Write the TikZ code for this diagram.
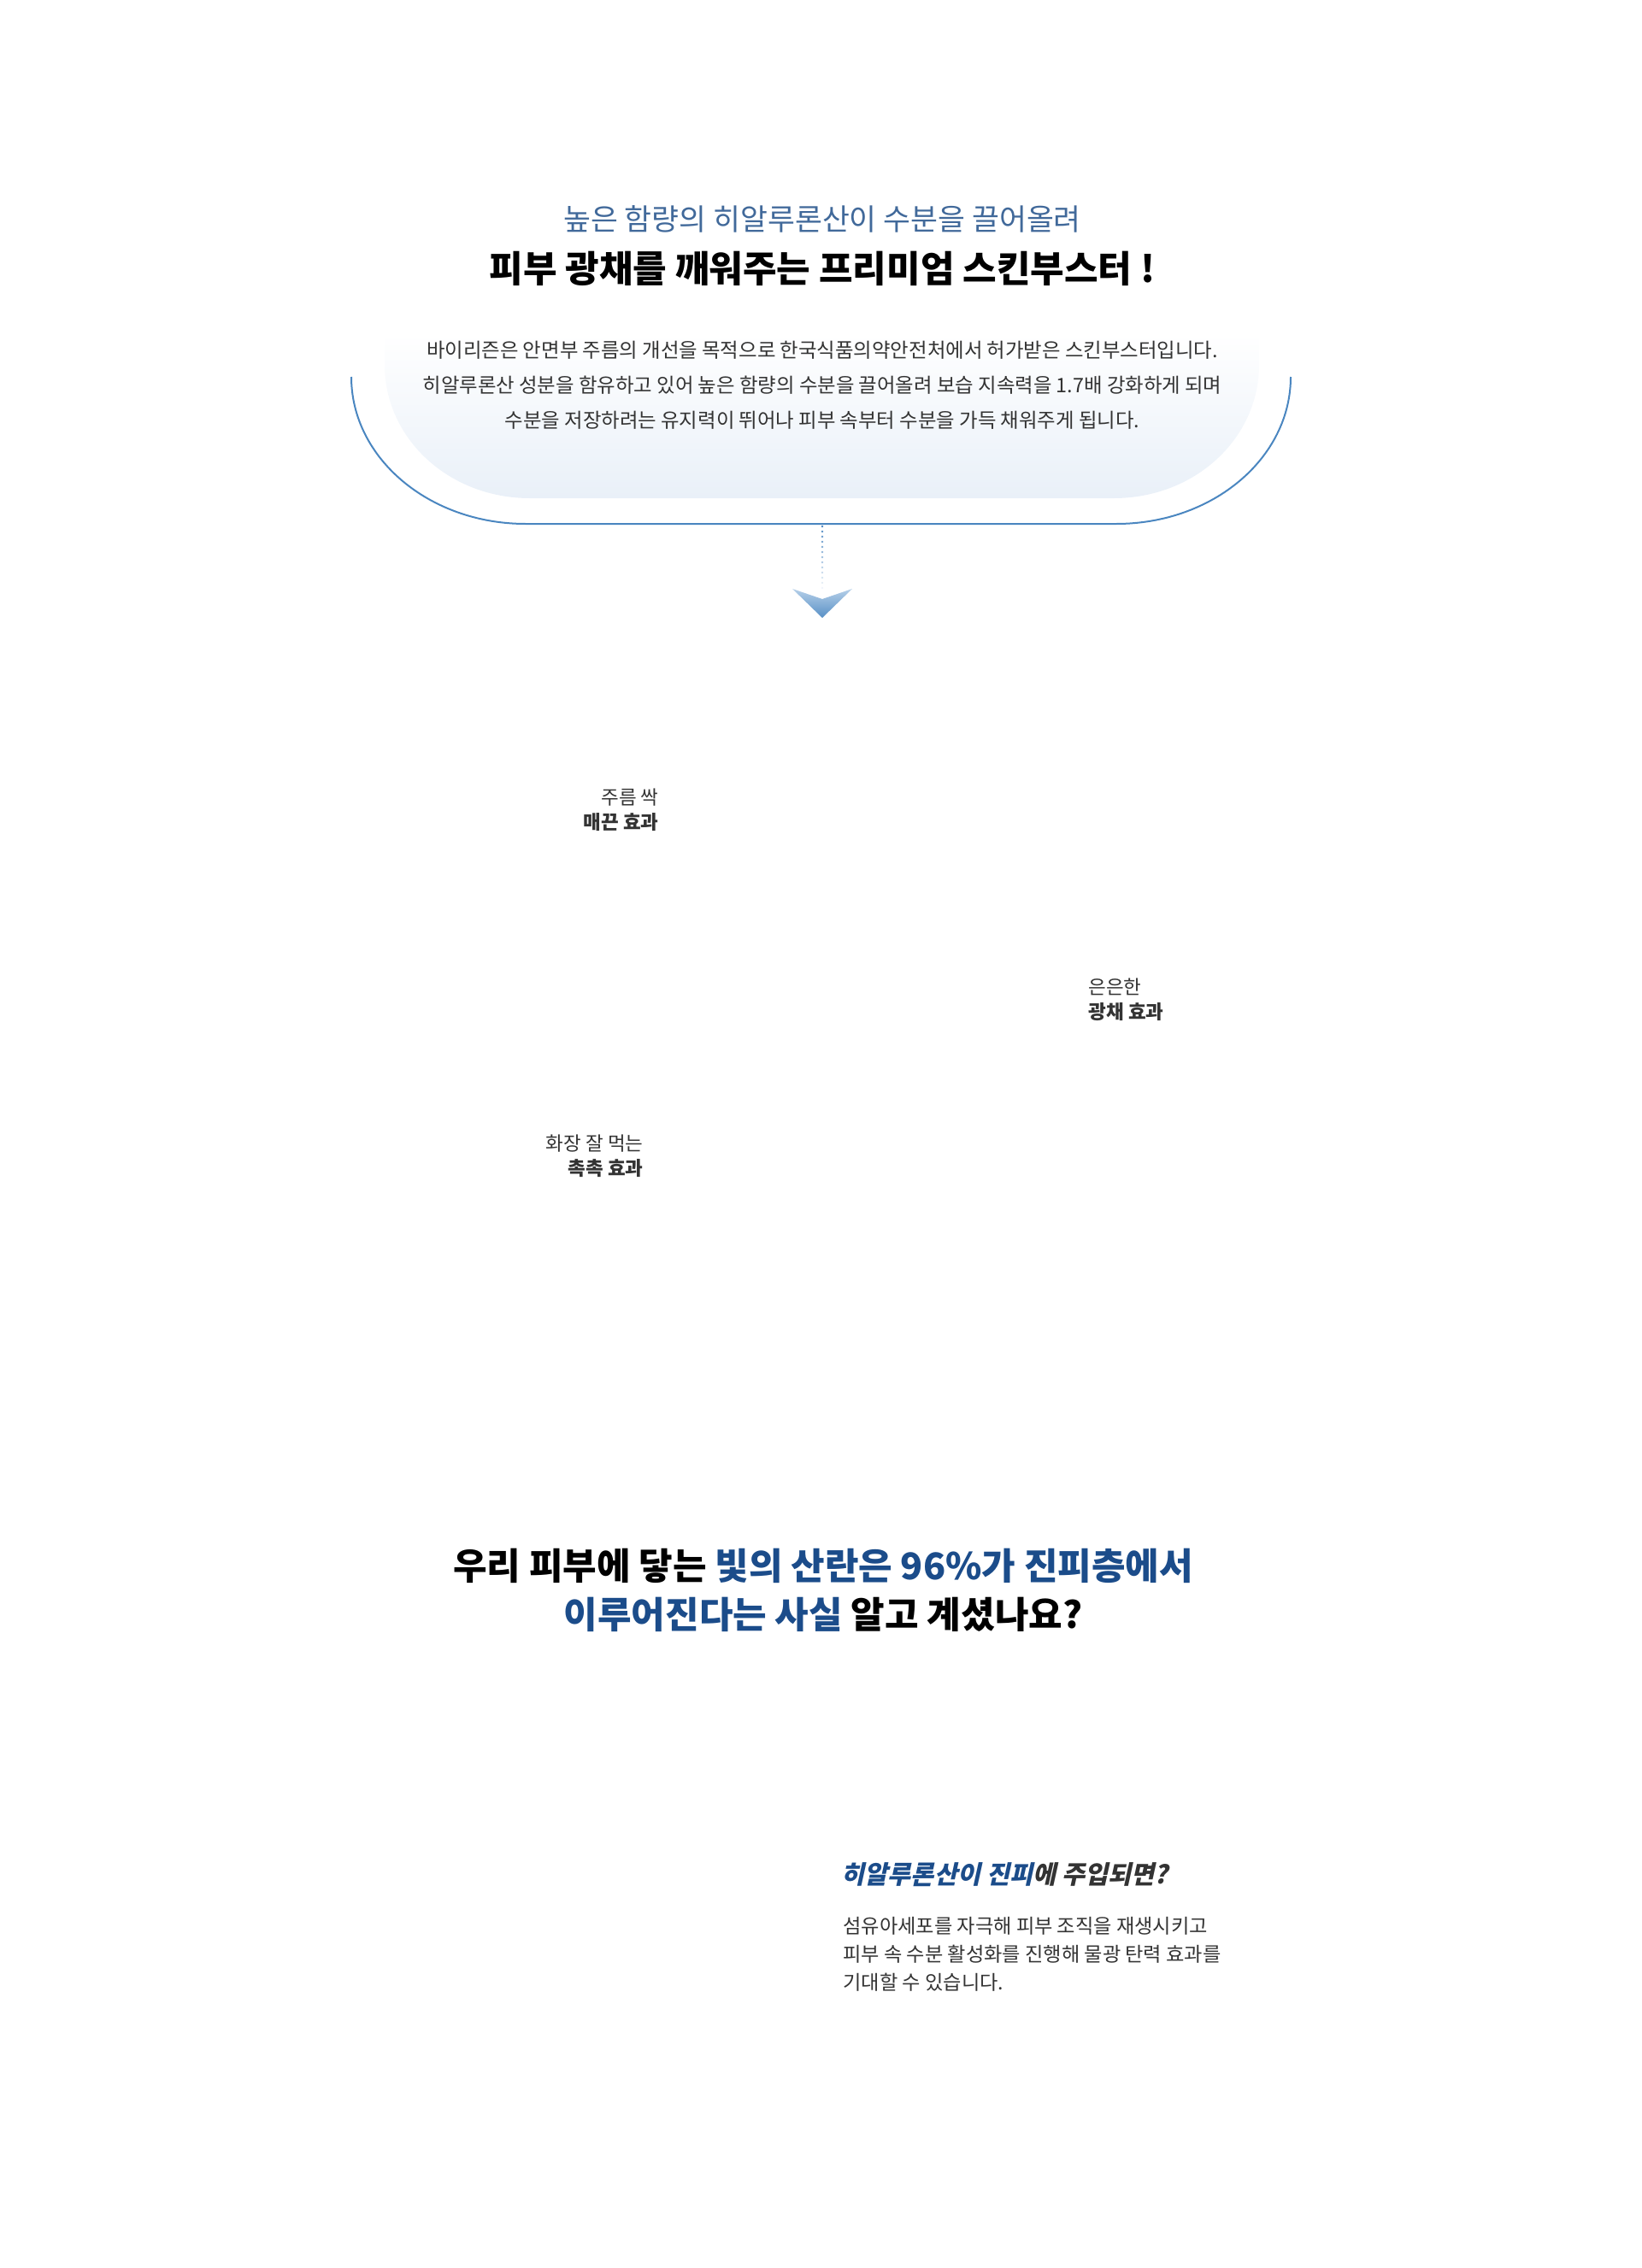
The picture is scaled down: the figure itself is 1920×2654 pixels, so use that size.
\documentclass[tikz,border=0pt]{standalone}
\usepackage{fontspec}
\newfontfamily\cjk{Noto Sans CJK KR}
\newfontfamily\cjkhand{Noto Sans CJK KR}[FakeSlant=0.22]
\usepackage{tikz}
\definecolor{subblue}{HTML}{41699A}
\definecolor{deepblue}{HTML}{1B4C8A}
\definecolor{lineblue}{HTML}{4A86C0}
\definecolor{fillblue}{HTML}{E9F0F8}
\definecolor{textgray}{HTML}{333333}
\definecolor{arrowlight}{HTML}{B5CFE8}
\definecolor{arrowdark}{HTML}{5890C6}

\begin{document}
\begin{tikzpicture}[x=1pt,y=-1pt,
  subline/.style={font=\cjk\fontsize{34.7}{40}\selectfont,text=subblue},
  headline/.style={font=\cjk\bfseries\fontsize{43}{50}\selectfont,text=black},
  descline/.style={font=\cjk\fontsize{23.4}{41}\selectfont,text=textgray,align=center},
  effect/.style={font=\cjk\fontsize{22.5}{29}\selectfont,text=textgray},
  question/.style={font=\cjk\bfseries\fontsize{43}{57}\selectfont,text=black,align=center},
  handline/.style={font=\cjkhand\bfseries\fontsize{29.5}{36}\selectfont,text=textgray},
  bodyline/.style={font=\cjk\fontsize{23.2}{33}\selectfont,text=textgray,align=left}]
\useasboundingbox (0,0) rectangle (1920,2654);
% soft panel behind the description
\shade[top color=white,bottom color=fillblue]
  (450,390) -- (450,427) .. controls (450,513) and (525,583) .. (620,583)
  -- (1303,583) .. controls (1398,583) and (1473,513) .. (1473,427)
  -- (1473,390) -- cycle;
% outer frame line
\draw[lineblue,line width=2pt]
  (411,441) .. controls (411,536) and (502,613) .. (615,613)
  -- (1306,613) .. controls (1419,613) and (1510,536) .. (1510,441);
\node[subline] (sub) at (962,256) {높은 함량의 히알루론산이 수분을 끌어올려};
\node[headline] (head) at (962,314) {피부 광채를 깨워주는 프리미엄 스킨부스터 !};
\node[descline] (desc) at (962,451) {바이리즌은 안면부 주름의 개선을 목적으로 한국식품의약안전처에서 허가받은 스킨부스터입니다.\\
  히알루론산 성분을 함유하고 있어 높은 함량의 수분을 끌어올려 보습 지속력을 1.7배 강화하게 되며\\
  수분을 저장하려는 유지력이 뛰어나 피부 속부터 수분을 가득 채워주게 됩니다.};
% dotted stem and chevron
\foreach \i in {0,...,12}
  \fill[lineblue,opacity={1-\i/13}] (962,{616+6*\i}) circle (1.4);
\shade[top color=arrowlight,bottom color=arrowdark]
  (927,689) -- (962,701) -- (997,689) -- (962,723) -- cycle;
\node[effect,anchor=east,align=right] (wrinkle) at (774,948) {주름 싹\\{\bfseries 매끈 효과}};
\node[effect,anchor=west,align=left] (glow) at (1270,1170) {은은한\\{\bfseries 광채 효과}};
\node[effect,anchor=east,align=right] (moist) at (756,1353) {화장 잘 먹는\\{\bfseries 촉촉 효과}};
\node[question] (ask) at (963,1861) {우리 피부에 닿는 \textcolor{deepblue}{빛의 산란은 96\%가 진피층에서}\\
  \textcolor{deepblue}{이루어진다는 사실} 알고 계셨나요?};
\node[handline,anchor=west] (hand) at (981,2194) {\textcolor{deepblue}{히알루론산이 진피}에 주입되면?};
\node[bodyline,anchor=west] (body) at (983,2287) {섬유아세포를 자극해 피부 조직을 재생시키고\\
  피부 속 수분 활성화를 진행해 물광 탄력 효과를\\
  기대할 수 있습니다.};
\end{tikzpicture}
\end{document}
